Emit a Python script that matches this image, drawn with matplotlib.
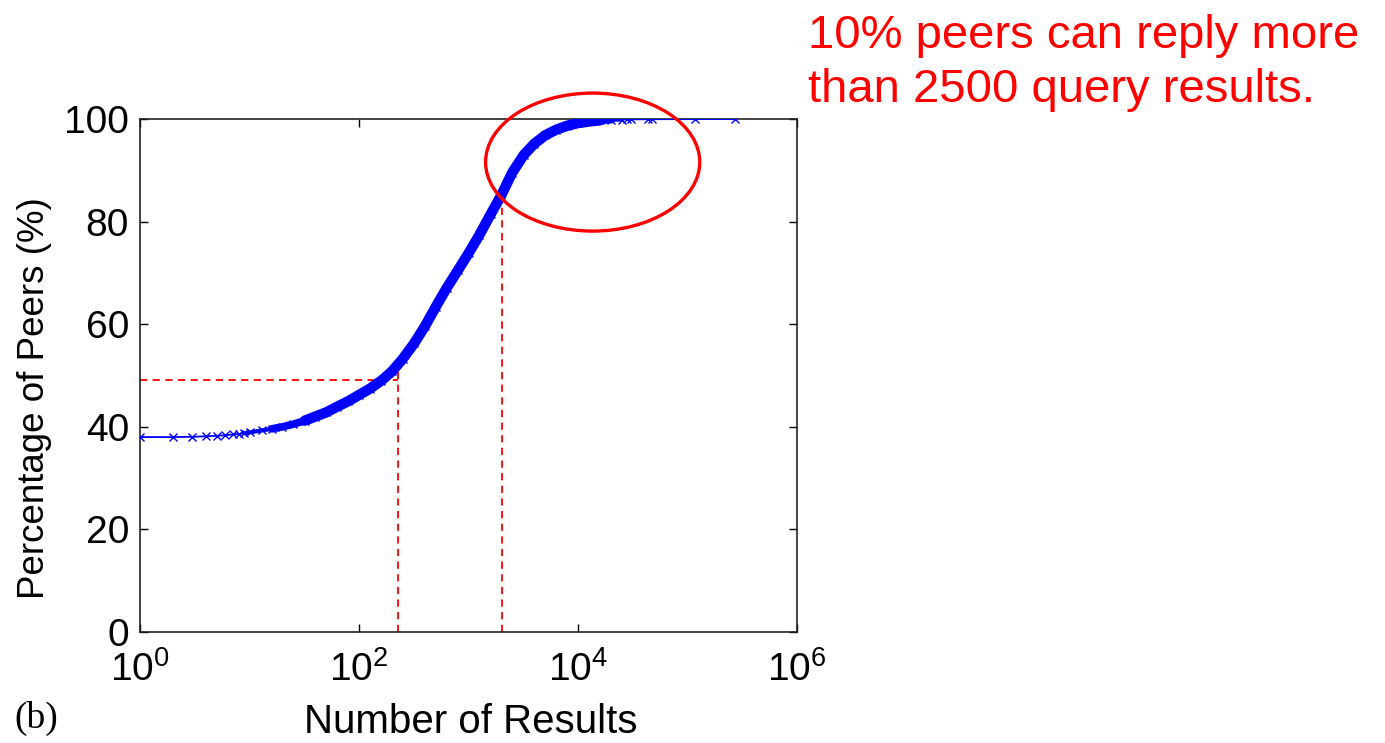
import matplotlib
matplotlib.use("Agg")
import matplotlib.pyplot as plt
from matplotlib.patches import Ellipse

plt.rcParams['font.family'] = ['Liberation Sans', 'DejaVu Sans']
plt.rcParams['mathtext.fontset'] = 'custom'
plt.rcParams['mathtext.rm'] = 'Liberation Sans'
plt.rcParams['mathtext.it'] = 'Liberation Sans'
plt.rcParams['mathtext.default'] = 'regular'

# CDF of the number of query results returned per peer
results = [1, 2, 3, 4, 5, 6, 7, 8, 9, 10, 13, 16, 20, 25, 32, 40, 50, 63, 80,
           100, 125, 160, 200, 250, 320, 400, 500, 630, 800, 1000, 1250, 1600,
           2000, 2500, 3200, 4000, 5000, 6300, 8000, 10000, 13000, 16000,
           20000, 25000, 28000, 30500, 43600, 47000, 117000, 272000]
peers_pct = [38.0, 38.0, 38.05, 38.15, 38.25, 38.35, 38.5, 38.6, 38.75, 38.9,
             39.3, 39.6, 40.0, 40.5, 41.2, 42.0, 42.8, 43.9, 45.0, 46.2, 47.4,
             49.0, 50.8, 53.2, 56.3, 59.6, 63.3, 67.0, 70.5, 73.8, 77.3, 81.5,
             85.2, 89.5, 93.0, 95.2, 96.8, 97.9, 98.7, 99.2, 99.55, 99.75,
             99.85, 99.9, 99.92, 99.93, 99.95, 99.96, 99.98, 100.0]

# guide lines
guide_x = [229, 2020]
guide_top = [51.8, 85.0]
guide_y = 49.1

xticks = [1e0, 1e2, 1e4, 1e6]
yticks = [0, 20, 40, 60, 80, 100]

annotation = "10% peers can reply more\nthan 2500 query results."

W, H = 1385, 743
fig = plt.figure(figsize=(W / 100, H / 100), dpi=100)
ax = fig.add_axes([140 / W, (H - 632) / H, 657 / W, 513 / H])

blue = '#0000ff'
red = '#ff0000'


def span(lo, hi):
    """Samples whose result count lies in [lo, hi]."""
    idx = [i for i, r in enumerate(results) if lo <= r <= hi]
    return [results[i] for i in idx], [peers_pct[i] for i in idx]


ax.plot(results, peers_pct, color=blue, lw=1.3, marker='x', ms=6, mew=1.0,
        zorder=3)
# samples pile up into a solid band where the distribution is dense
for lo, hi, lw in [(9, 25000, 3.0), (16, 20000, 5.5), (32, 16000, 7.5)]:
    xs, ys = span(lo, hi)
    ax.plot(xs, ys, color=blue, lw=lw, solid_capstyle='round',
            solid_joinstyle='round', zorder=3)

dash = dict(color=red, lw=1.3, ls=(0, (4, 3)), zorder=2)
ax.plot([1, guide_x[0]], [guide_y, guide_y], **dash)
for gx, gt in zip(guide_x, guide_top):
    ax.plot([gx, gx], [0, gt], **dash)

ax.set_xscale('log')
ax.set_xlim(1, 1e6)
ax.set_ylim(0, 100)
ax.set_xticks(xticks)
ax.set_yticks(yticks)
ax.minorticks_off()
ax.tick_params(direction='in', length=6, width=1, top=True, right=True,
               labelsize=28, colors='black')
ax.tick_params(axis='x', pad=14)
ax.tick_params(axis='y', pad=8)
for s in ax.spines.values():
    s.set_linewidth(1.2)
    s.set_color('#222222')

ax.add_patch(Ellipse((0.689, 0.916), 0.326, 0.269, transform=ax.transAxes,
                     fill=False, edgecolor=red, lw=2.4, clip_on=False,
                     zorder=4))

fig.text(471 / W, 1 - 722 / H, "Number of Results", fontsize=29,
         ha='center', va='center')
fig.text(35 / W, 1 - 398 / H, "Percentage of Peers (%)", fontsize=26.5,
         ha='center', va='center', rotation=90)
fig.text(14 / W, 1 - 718 / H, "(b)", fontsize=27, family='Liberation Serif',
         ha='left', va='center')
fig.text(808 / W, 1 - 63 / H, annotation, fontsize=34, color=red,
         ha='left', va='center', linespacing=1.3)

fig.savefig("out.png", dpi=100)
